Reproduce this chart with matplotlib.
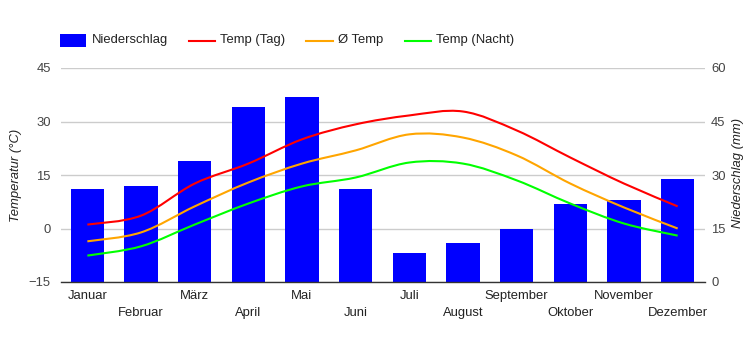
import numpy as np
import matplotlib
matplotlib.use("Agg")
import matplotlib.pyplot as plt
from matplotlib.path import Path
from matplotlib.patches import PathPatch, Rectangle
from matplotlib.lines import Line2D

months = ["Januar", "Februar", "März", "April", "Mai", "Juni", "Juli",
          "August", "September", "Oktober", "November", "Dezember"]
precip = [26, 27, 34, 49, 52, 26, 8, 11, 15, 22, 23, 29]
temp_day = [1.1, 3.6, 12.6, 18.2, 25.0, 29.2, 31.7, 32.8, 27.5, 19.9, 12.6, 6.2]
temp_avg = [-3.6, -1.1, 6.2, 12.9, 18.2, 21.9, 26.4, 25.5, 20.5, 12.6, 5.9, 0.0]
temp_night = [-7.6, -5.0, 1.1, 7.0, 11.8, 14.3, 18.5, 18.2, 13.5, 7.0, 1.4, -2.0]
temp_ticks = [-15, 0, 15, 30, 45]
precip_ticks = [0, 15, 30, 45, 60]

FONT = "Liberation Sans"
FS = 9.36
W, H = 750, 350

fig = plt.figure(figsize=(7.5, 3.5), dpi=100)
x0, x1, y0, y1 = 60.5, 704.5, 68, 282
ax2 = fig.add_axes([x0 / W, 1 - y1 / H, (x1 - x0) / W, (y1 - y0) / H])
ax = ax2.twinx()

x = np.arange(len(months))

# bars on precipitation axis
ax2.bar(x, precip, width=0.615, color="#0000ff", zorder=2)
ax2.set_ylim(0, 60)
ax2.set_xlim(-0.5, len(months) - 0.5)
ax2.set_yticks(precip_ticks)
ax2.yaxis.tick_right()
ax2.grid(axis="y", color="#cccccc", linewidth=1, zorder=0)
ax2.set_axisbelow(True)
ax2.tick_params(axis="y", length=0, pad=4.8, labelsize=FS, labelcolor="#444444")
for lab in ax2.get_yticklabels():
    lab.set_fontfamily(FONT)

ax2.set_xticks(x)
ax2.set_xticklabels(months, fontfamily=FONT, fontsize=FS, color="#222222")
ax2.tick_params(axis="x", length=0, pad=5.8)
for i, t in enumerate(ax2.xaxis.get_major_ticks()):
    if i % 2 == 1:
        t.set_pad(18.0)

# temperature axis
ax.set_ylim(-15, 45)
ax.set_yticks(temp_ticks)
ax.yaxis.tick_left()
ax.tick_params(axis="y", length=0, pad=7.0, labelsize=FS, labelcolor="#444444")
for lab in ax.get_yticklabels():
    lab.set_fontfamily(FONT)
ax.set_xlim(-0.5, len(months) - 0.5)

for a in (ax, ax2):
    for s in a.spines.values():
        s.set_visible(False)
ax2.spines["bottom"].set_visible(True)
ax2.spines["bottom"].set_color("#333333")
ax2.spines["bottom"].set_linewidth(1)
ax2.spines["bottom"].set_zorder(5)


def smooth_path(xs, ys, t=1.0 / 6):
    pts = np.column_stack([xs, ys]).astype(float)
    n = len(pts)
    verts = [pts[0]]
    codes = [Path.MOVETO]
    for i in range(n - 1):
        p0 = pts[i - 1] if i > 0 else pts[i]
        p1 = pts[i]
        p2 = pts[i + 1]
        p3 = pts[i + 2] if i + 2 < n else pts[i + 1]
        c1 = p1 + (p2 - p0) * t
        c2 = p2 - (p3 - p1) * t
        verts += [c1, c2, p2]
        codes += [Path.CURVE4] * 3
    return Path(verts, codes)


for vals, col in [(temp_night, "#00ff00"), (temp_avg, "#ffa500"), (temp_day, "#ff0000")]:
    ax.add_patch(PathPatch(smooth_path(x, vals), facecolor="none", edgecolor=col,
                           linewidth=1.5, capstyle="butt", zorder=3))

# axis titles
fig.text(16.5 / W, 1 - 175 / H, "Temperatur (°C)", rotation=90, ha="center", va="center",
         fontfamily=FONT, fontsize=FS, fontstyle="italic", color="#222222")
fig.text(738 / W, 1 - 173 / H, "Niederschlag (mm)", rotation=90, ha="center", va="center",
         fontfamily=FONT, fontsize=FS, fontstyle="italic", color="#222222")

# legend
ly = 1 - 40.5 / H
fig.add_artist(Rectangle((60.3 / W, 1 - 47.3 / H), 25.8 / W, 13.5 / H,
                         transform=fig.transFigure, facecolor="#0000ff", edgecolor="none"))
fig.text(91.9 / W, ly, "Niederschlag", ha="left", va="center", fontfamily=FONT,
         fontsize=FS, color="#222222")
for (lx0, lx1, tx, lab, col) in [(188.8, 214.6, 220.0, "Temp (Tag)", "#ff0000"),
                                 (306.0, 332.7, 337.8, "Ø Temp", "#ffa500"),
                                 (404.9, 430.7, 436.0, "Temp (Nacht)", "#00ff00")]:
    fig.add_artist(Line2D([lx0 / W, lx1 / W], [ly, ly], transform=fig.transFigure,
                          color=col, linewidth=1.5))
    fig.text(tx / W, ly, lab, ha="left", va="center", fontfamily=FONT,
             fontsize=FS, color="#222222")

fig.savefig("out.png", dpi=100)
